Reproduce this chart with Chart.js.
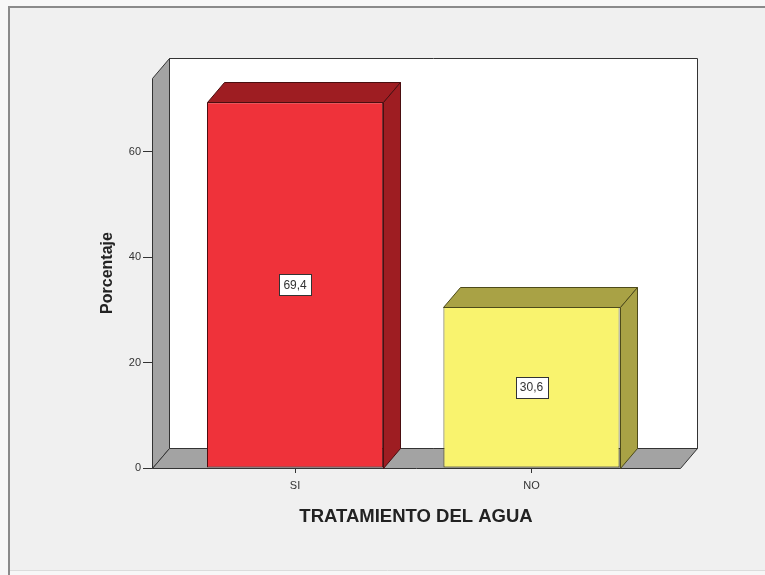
<!DOCTYPE html>
<html>
<head>
<meta charset="utf-8">
<script src="https://cdn.jsdelivr.net/npm/chart.js@4.4.0/dist/chart.umd.min.js"></script>
<style>
  html, body { margin: 0; padding: 0; background: #f0f0f0; }
  #wrap { width: 765px; height: 575px; }
</style>
</head>
<body>
<div id="wrap"><canvas id="c" width="765" height="575"></canvas></div>
<script>
// Tratamiento del agua: porcentaje por respuesta
const categories = ['SI', 'NO'];
const percentages = [69.4, 30.6];
const yTicks = [0, 20, 40, 60];

const frontColors = ['#ef323a', '#f9f36e'];
const shadeColors = ['#9e1d22', '#a9a245'];
const edgeColors = ['#4a0e10', '#4d4a1a'];
const FONT = '"Liberation Sans", Arial, sans-serif';

// 3D depth of walls and bars (pixels)
const DX = 17, DY = 20;

function poly(ctx, pts, fill, stroke) {
  ctx.beginPath();
  ctx.moveTo(pts[0][0], pts[0][1]);
  for (let i = 1; i < pts.length; i++) ctx.lineTo(pts[i][0], pts[i][1]);
  ctx.closePath();
  ctx.fillStyle = fill;
  ctx.fill();
  ctx.lineWidth = 1;
  ctx.strokeStyle = stroke;
  ctx.stroke();
}

const framePlugin = {
  id: 'frame',
  beforeDraw(chart) {
    const ctx = chart.ctx;
    ctx.save();
    ctx.fillStyle = '#f7f7f7';
    ctx.fillRect(0, 0, chart.width, chart.height);
    ctx.fillStyle = '#f0f0f0';
    ctx.fillRect(9, 7, chart.width - 9, chart.height - 12);
    ctx.strokeStyle = '#8a8a8a';
    ctx.lineWidth = 2;
    ctx.beginPath();
    ctx.moveTo(9, chart.height);
    ctx.lineTo(9, 7);
    ctx.lineTo(chart.width, 7);
    ctx.stroke();
    ctx.strokeStyle = '#dcdcdc';
    ctx.lineWidth = 1;
    ctx.beginPath();
    ctx.moveTo(10, chart.height - 4.5);
    ctx.lineTo(chart.width, chart.height - 4.5);
    ctx.stroke();
    ctx.restore();
  }
};

const wallsPlugin = {
  id: 'walls',
  beforeDatasetsDraw(chart) {
    const {ctx, chartArea: a} = chart;
    const L = a.left, R = a.right, T = a.top, B = a.bottom;
    ctx.save();
    ctx.translate(0.5, 0.5);
    // back wall
    poly(ctx, [[L + DX, T - DY], [R + DX, T - DY], [R + DX, B - DY], [L + DX, B - DY]], '#ffffff', '#333333');
    // left wall
    poly(ctx, [[L, T], [L + DX, T - DY], [L + DX, B - DY], [L, B]], '#a3a3a3', '#333333');
    // floor
    poly(ctx, [[L, B], [L + DX, B - DY], [R + DX, B - DY], [R, B]], '#a3a3a3', '#333333');
    ctx.restore();
  },
  afterDatasetsDraw(chart) {
    const ctx = chart.ctx;
    const meta = chart.getDatasetMeta(0);
    ctx.save();
    meta.data.forEach((bar, i) => {
      const x0 = Math.round(bar.x - bar.width / 2) + 0.5;
      const x1 = Math.round(bar.x + bar.width / 2) + 0.5;
      const y = Math.round(bar.y) + 0.5;
      const b = Math.round(bar.base) + 0.5;
      // top face
      poly(ctx, [[x0, y], [x0 + DX, y - DY], [x1 + DX, y - DY], [x1, y]], shadeColors[i], edgeColors[i]);
      // side face
      poly(ctx, [[x1, y], [x1 + DX, y - DY], [x1 + DX, b - DY], [x1, b]], shadeColors[i], edgeColors[i]);
      // value label
      const txt = percentages[i].toFixed(1).replace('.', ',');
      ctx.font = '12px ' + FONT;
      const w = Math.round(ctx.measureText(txt).width + 9);
      const h = 21;
      const cx = bar.x, cy = (bar.y + bar.base) / 2;
      const bx = Math.round(cx - w / 2) + 0.5, by = Math.round(cy - h / 2) + 0.5;
      ctx.fillStyle = '#ffffff';
      ctx.fillRect(bx, by, w, h);
      ctx.strokeStyle = '#333333';
      ctx.lineWidth = 1;
      ctx.strokeRect(bx, by, w, h);
      ctx.fillStyle = '#333333';
      ctx.textAlign = 'center';
      ctx.textBaseline = 'middle';
      ctx.fillText(txt, cx, cy + 1);
    });
    ctx.restore();
  }
};

new Chart(document.getElementById('c'), {
  type: 'bar',
  data: {
    datasets: [{
      label: 'Porcentaje',
      data: categories.map((c, i) => ({x: i, y: percentages[i]})),
      backgroundColor: frontColors,
      borderColor: edgeColors,
      borderWidth: 1,
      borderSkipped: false,
      categoryPercentage: 1,
      barPercentage: 0.745
    }]
  },
  options: {
    responsive: false,
    animation: false,
    devicePixelRatio: 1,
    layout: { padding: { left: 96, right: 85, top: 78, bottom: 0 } },
    plugins: { legend: { display: false }, tooltip: { enabled: false } },
    scales: {
      x: {
        type: 'linear',
        offset: false,
        min: -0.605,
        max: 1.628,
        afterBuildTicks: (s) => { s.ticks = categories.map((c, i) => ({value: i})); },
        afterFit: (s) => { s.height = 107; },
        ticks: {
          callback: (v) => categories[v],
          font: { family: FONT, size: 11 },
          color: '#333333',
          padding: 6,
          maxRotation: 0
        },
        grid: { offset: false, drawOnChartArea: false, drawTicks: true, tickLength: 5, color: '#333333' },
        border: { display: false },
        title: {
          display: true,
          text: 'TRATAMIENTO DEL AGUA',
          font: { family: FONT, size: 18.5, weight: 'bold' },
          color: '#222222',
          padding: { top: 4, bottom: 47 }
        }
      },
      y: {
        min: 0,
        max: 74,
        afterBuildTicks: (s) => { s.ticks = yTicks.map(v => ({value: v})); },
        afterFit: (s) => { s.width = 56; },
        ticks: {
          font: { family: FONT, size: 11 },
          color: '#333333',
          padding: 2
        },
        grid: { drawOnChartArea: false, drawTicks: true, tickLength: 9, color: '#333333' },
        border: { display: false },
        title: {
          display: true,
          text: 'Porcentaje',
          font: { family: FONT, size: 16, weight: 'bold' },
          color: '#222222',
          padding: { top: 2, bottom: 0 }
        }
      }
    }
  },
  plugins: [framePlugin, wallsPlugin]
});
</script>
</body>
</html>
